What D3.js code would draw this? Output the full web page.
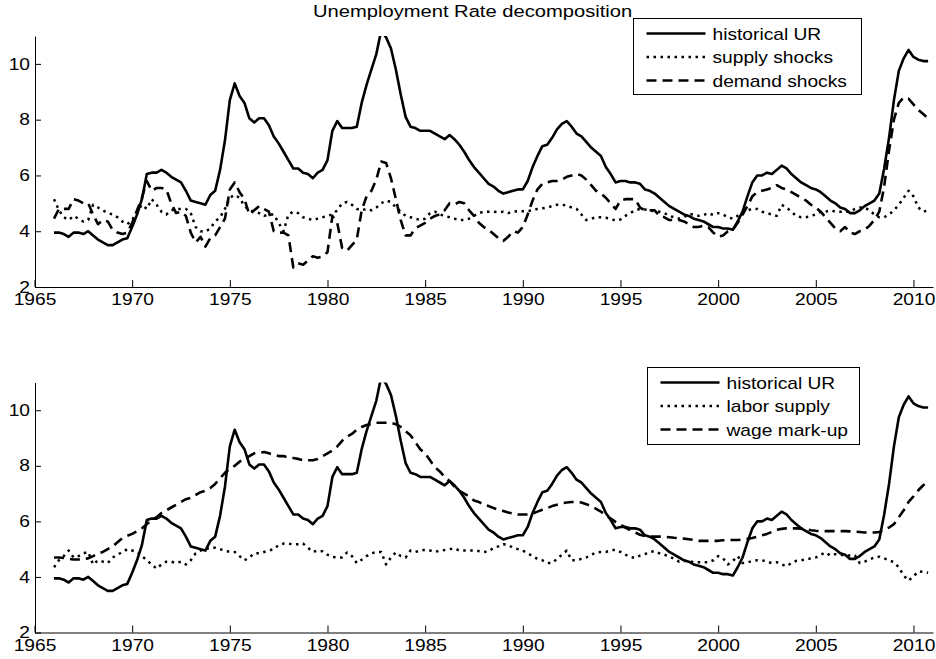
<!DOCTYPE html>
<html lang="en">
<head>
<meta charset="UTF-8">
<title>Unemployment Rate decomposition</title>
<script src="https://cdn.jsdelivr.net/npm/d3@7"></script>
<style>
  body { margin: 0; background: #fff; }
  text { font-family: "Liberation Sans", Arial, sans-serif; fill: #000; }
</style>
</head>
<body>
<svg id="chart" width="936" height="659"></svg>
<script>
// quarterly data, first point is 1966 Q1
var firstYear = 1966;

var historicalUR = [
  3.95,3.95,3.9,3.8,3.95,3.95,3.9,4.0,3.85,3.7,3.6,3.5,3.5,3.6,3.7,3.75,
  4.15,4.6,5.15,6.05,6.1,6.1,6.2,6.1,5.95,5.85,5.75,5.45,5.1,5.05,5.0,4.95,
  5.3,5.45,6.2,7.25,8.7,9.3,8.85,8.6,8.05,7.9,8.05,8.05,7.8,7.4,7.15,6.85,
  6.55,6.25,6.25,6.1,6.05,5.9,6.1,6.2,6.55,7.6,7.95,7.7,7.7,7.7,7.75,8.6,
  9.25,9.8,10.35,11.2,10.95,10.55,9.8,8.9,8.1,7.75,7.7,7.6,7.6,7.6,7.5,7.4,
  7.3,7.45,7.3,7.1,6.85,6.55,6.3,6.1,5.9,5.7,5.6,5.45,5.35,5.4,5.45,5.5,
  5.5,5.8,6.3,6.7,7.05,7.1,7.35,7.65,7.85,7.95,7.75,7.5,7.4,7.2,7.0,6.85,
  6.7,6.3,6.05,5.75,5.8,5.8,5.75,5.75,5.7,5.5,5.45,5.35,5.2,5.05,4.9,4.8,
  4.7,4.6,4.55,4.45,4.4,4.35,4.25,4.15,4.15,4.1,4.1,4.05,4.35,4.7,5.25,5.75,
  6.0,6.0,6.1,6.05,6.2,6.35,6.25,6.05,5.9,5.75,5.65,5.55,5.5,5.4,5.25,5.1,
  5.0,4.85,4.8,4.65,4.65,4.75,4.9,5.0,5.1,5.35,6.25,7.35,8.7,9.75,10.2,10.5,
  10.25,10.15,10.1,10.1
];

var supplyShocks = [
  5.15,4.75,4.5,4.4,4.55,4.45,4.35,4.4,4.95,4.85,4.75,4.65,4.6,4.5,4.35,4.25,
  4.4,4.7,4.95,4.8,5.15,4.95,4.7,4.6,4.75,4.8,4.8,4.8,4.65,4.15,4.0,3.98,
  4.1,4.35,4.5,4.8,5.2,5.3,5.2,4.9,4.75,4.7,4.65,4.55,4.6,4.6,4.3,4.0,
  4.6,4.7,4.65,4.5,4.45,4.4,4.45,4.5,4.55,4.6,4.75,5.0,5.05,4.95,4.8,4.75,
  4.8,4.75,4.85,5.0,5.1,5.05,4.85,4.7,4.55,4.5,4.45,4.4,4.45,4.65,4.7,4.6,
  4.55,4.5,4.45,4.4,4.4,4.45,4.55,4.65,4.7,4.7,4.7,4.68,4.7,4.65,4.7,4.72,
  4.72,4.72,4.75,4.8,4.82,4.85,4.9,4.95,4.95,4.92,4.85,4.8,4.6,4.4,4.45,4.5,
  4.5,4.48,4.45,4.38,4.42,4.55,4.65,4.75,4.8,4.78,4.75,4.72,4.7,4.65,4.55,4.5,
  4.45,4.5,4.62,4.6,4.55,4.58,4.65,4.58,4.65,4.6,4.5,4.45,4.55,4.65,4.75,4.8,
  4.8,4.7,4.65,4.6,4.55,4.95,4.85,4.7,4.55,4.5,4.5,4.55,4.6,4.7,4.7,4.75,
  4.7,4.7,4.7,4.7,4.8,4.85,4.85,4.75,4.6,4.5,4.5,4.6,4.75,4.95,5.2,5.45,
  5.25,4.85,4.7,4.75
];

var demandShocks = [
  4.45,4.8,4.8,4.8,5.15,5.1,5.0,5.0,4.6,4.25,4.4,4.35,4.05,3.95,3.9,3.95,
  4.3,4.75,5.2,5.8,5.45,5.55,5.55,5.5,5.0,4.65,4.7,4.55,3.95,3.6,3.8,3.45,
  3.75,3.85,4.15,4.45,5.5,5.75,5.4,5.15,4.6,4.75,4.9,4.8,4.7,4.0,3.95,3.95,
  3.85,2.7,2.85,2.8,2.95,3.1,3.05,3.1,3.25,4.55,4.3,3.4,3.3,3.5,3.7,4.75,
  5.25,5.45,5.85,6.5,6.45,5.9,5.15,4.4,3.85,3.85,4.1,4.2,4.3,4.45,4.55,4.6,
  4.75,5.0,4.95,5.05,5.0,4.75,4.55,4.3,4.15,4.05,3.9,3.75,3.65,3.8,4.0,3.95,
  4.15,4.6,5.1,5.5,5.7,5.75,5.8,5.8,5.85,5.95,6.0,6.05,6.0,5.85,5.65,5.45,
  5.35,5.2,5.0,4.8,5.1,5.15,5.15,5.15,4.85,4.75,4.75,4.75,4.55,4.5,4.4,4.4,
  4.4,4.35,4.25,4.15,4.15,4.2,4.15,3.95,3.8,3.85,4.0,4.05,4.3,4.6,4.9,5.25,
  5.4,5.45,5.5,5.55,5.65,5.55,5.5,5.4,5.3,5.2,5.1,4.95,4.85,4.7,4.5,4.3,
  4.1,4.0,4.15,3.95,3.9,4.0,4.05,4.2,4.4,4.7,5.6,6.9,8.0,8.6,8.8,8.75,
  8.55,8.35,8.2,8.05
];

var laborSupply = [
  4.35,4.6,4.75,4.95,4.7,4.75,4.85,4.9,4.45,4.6,4.55,4.5,4.7,4.8,4.9,5.0,
  4.95,4.9,4.75,4.6,4.45,4.3,4.45,4.55,4.55,4.5,4.55,4.45,4.6,4.85,4.95,5.0,
  5.05,5.05,5.0,4.95,4.9,4.9,4.75,4.6,4.7,4.85,4.85,4.9,4.95,5.0,5.15,5.2,
  5.2,5.17,5.18,5.2,5.05,4.9,4.95,4.92,4.8,4.72,4.7,4.7,4.88,4.75,4.5,4.62,
  4.75,4.85,4.9,4.9,4.45,4.7,4.88,4.75,4.7,4.95,4.9,4.95,4.98,4.95,4.9,4.95,
  4.97,5.0,5.03,4.95,4.95,4.95,4.95,4.93,4.9,4.92,5.05,5.1,5.18,5.15,5.05,5.0,
  4.95,4.85,4.75,4.65,4.6,4.5,4.5,4.65,4.8,4.95,4.6,4.6,4.65,4.7,4.8,4.88,
  4.9,4.9,4.95,4.98,4.9,4.8,4.72,4.68,4.77,4.82,4.9,4.93,4.85,4.8,4.73,4.65,
  4.55,4.57,4.58,4.53,4.53,4.53,4.53,4.6,4.75,4.67,4.45,4.57,4.75,4.5,4.52,4.58,
  4.6,4.6,4.55,4.5,4.53,4.45,4.38,4.5,4.58,4.6,4.63,4.67,4.7,4.8,4.88,4.77,
  4.82,4.8,4.77,4.77,4.77,4.5,4.55,4.63,4.7,4.73,4.67,4.6,4.53,4.35,4.05,3.87,
  4.02,4.2,4.18,4.15
];

var wageMarkup = [
  4.7,4.7,4.68,4.65,4.63,4.63,4.63,4.67,4.75,4.85,4.9,5.0,5.1,5.25,5.4,5.48,
  5.55,5.65,5.75,5.9,6.05,6.15,6.3,6.4,6.5,6.6,6.7,6.8,6.85,6.95,7.05,7.1,
  7.2,7.35,7.55,7.75,7.9,8.0,8.15,8.25,8.35,8.45,8.47,8.5,8.45,8.4,8.35,8.35,
  8.3,8.28,8.25,8.2,8.2,8.2,8.25,8.35,8.45,8.55,8.7,8.9,9.05,9.15,9.3,9.4,
  9.47,9.5,9.55,9.55,9.55,9.55,9.5,9.4,9.25,9.1,8.85,8.6,8.45,8.2,7.95,7.8,
  7.6,7.45,7.25,7.1,7.0,6.9,6.75,6.7,6.6,6.55,6.48,6.42,6.37,6.32,6.28,6.25,
  6.25,6.25,6.28,6.35,6.42,6.48,6.55,6.6,6.65,6.68,6.7,6.7,6.68,6.62,6.55,6.45,
  6.35,6.22,6.1,5.98,5.88,5.78,5.68,5.6,5.52,5.47,5.45,5.45,5.45,5.45,5.43,5.41,
  5.4,5.38,5.36,5.33,5.3,5.3,5.3,5.3,5.3,5.32,5.33,5.33,5.33,5.35,5.37,5.4,
  5.45,5.5,5.55,5.62,5.7,5.73,5.75,5.75,5.75,5.74,5.72,5.68,5.66,5.65,5.65,5.65,
  5.65,5.65,5.65,5.64,5.63,5.62,5.6,5.6,5.6,5.62,5.7,5.78,5.9,6.15,6.4,6.7,
  6.9,7.12,7.3,7.45
];

var xTicks = [1965, 1970, 1975, 1980, 1985, 1990, 1995, 2000, 2005, 2010];
var yTicks = [2, 4, 6, 8, 10];
var titleText = "Unemployment Rate decomposition";
var topLabels = ["historical UR", "supply shocks", "demand shocks"];
var bottomLabels = ["historical UR", "labor supply", "wage mark-up"];

// ---- drawing ----
var svg = d3.select("#chart");
var stretch = 1.2;   // text in the picture is a little wider than tall
var fontSize = 16;

var x = d3.scaleLinear().domain([1965, 2011]).range([34.5, 933]);

var styles = {
  solid:  { width: 2.6, dash: null },
  dotted: { width: 2.5, dash: "2.5,4.5" },
  dashed: { width: 2.6, dash: "10,6" }
};

function wideText(sel, tx, ty) {
  return sel.attr("transform", "translate(" + tx + "," + ty + ") scale(" + stretch + ",1)");
}

function drawPanel(id, top, bottom, series, labels, box) {
  var y = d3.scaleLinear().domain([2, 11]).range([bottom, top]);
  var g = svg.append("g").attr("id", id);

  svg.append("clipPath").attr("id", id + "-clip")
    .append("rect")
    .attr("x", x.range()[0]).attr("y", top)
    .attr("width", x.range()[1] - x.range()[0]).attr("height", bottom - top);

  var line = d3.line()
    .x(function (d, i) { return x(firstYear + i / 4); })
    .y(function (d) { return y(d); });

  var lines = g.append("g").attr("clip-path", "url(#" + id + "-clip)");
  series.forEach(function (s) {
    lines.append("path")
      .attr("d", line(s.values))
      .attr("fill", "none")
      .attr("stroke", "#000")
      .attr("stroke-width", styles[s.style].width)
      .attr("stroke-dasharray", styles[s.style].dash)
      .attr("stroke-linejoin", "round");
  });

  // axes, ticks pointing inward like matlab
  var xAxis = d3.axisBottom(x)
    .tickValues(xTicks)
    .tickFormat(d3.format("d"))
    .tickSizeInner(-7)
    .tickSizeOuter(0)
    .tickPadding(7);

  var yAxis = d3.axisLeft(y)
    .tickValues(yTicks)
    .tickSizeInner(-6)
    .tickSizeOuter(0)
    .tickPadding(5);

  var gx = g.append("g").attr("transform", "translate(0," + bottom + ")").call(xAxis);
  var gy = g.append("g").attr("transform", "translate(35,0)").call(yAxis);

  [gx, gy].forEach(function (ax) {
    ax.attr("font-family", null).attr("font-size", null);
    ax.select(".domain").attr("stroke", "#000").attr("stroke-width", 1);
    ax.selectAll(".tick line").attr("stroke", "#000").attr("stroke-width", 1);
    ax.selectAll(".tick text").style("font-size", fontSize + "px");
  });
  gx.selectAll(".tick text").attr("transform", "scale(" + stretch + ",1)");
  gy.selectAll(".tick text").attr("x", -5 / stretch).attr("transform", "scale(" + stretch + ",1)");

  if (id === "top") {
    wideText(svg.append("text"), 313, 17)
      .attr("font-size", 16.8)
      .text(titleText);
  }

  // legend
  var leg = svg.append("g");
  leg.append("rect")
    .attr("x", box.x).attr("y", box.y)
    .attr("width", box.w).attr("height", box.h)
    .attr("fill", "#fff").attr("stroke", "#000").attr("stroke-width", 1);

  series.forEach(function (s, i) {
    var ry = box.y + 15 + i * 23.5;
    leg.append("line")
      .attr("x1", box.x + 13).attr("x2", box.x + 72)
      .attr("y1", ry).attr("y2", ry)
      .attr("stroke", "#000")
      .attr("stroke-width", styles[s.style].width)
      .attr("stroke-dasharray", styles[s.style].dash);
    wideText(leg.append("text"), box.x + 79, ry + 6)
      .attr("font-size", fontSize)
      .text(labels[i]);
  });
}

drawPanel("top", 36, 287, [
  { values: historicalUR, style: "solid" },
  { values: supplyShocks, style: "dotted" },
  { values: demandShocks, style: "dashed" }
], topLabels, { x: 633.5, y: 18.5, w: 228, h: 76 });

drawPanel("bottom", 382.5, 632.5, [
  { values: historicalUR, style: "solid" },
  { values: laborSupply, style: "dotted" },
  { values: wageMarkup, style: "dashed" }
], bottomLabels, { x: 647.5, y: 367.5, w: 212, h: 77 });
</script>
</body>
</html>
